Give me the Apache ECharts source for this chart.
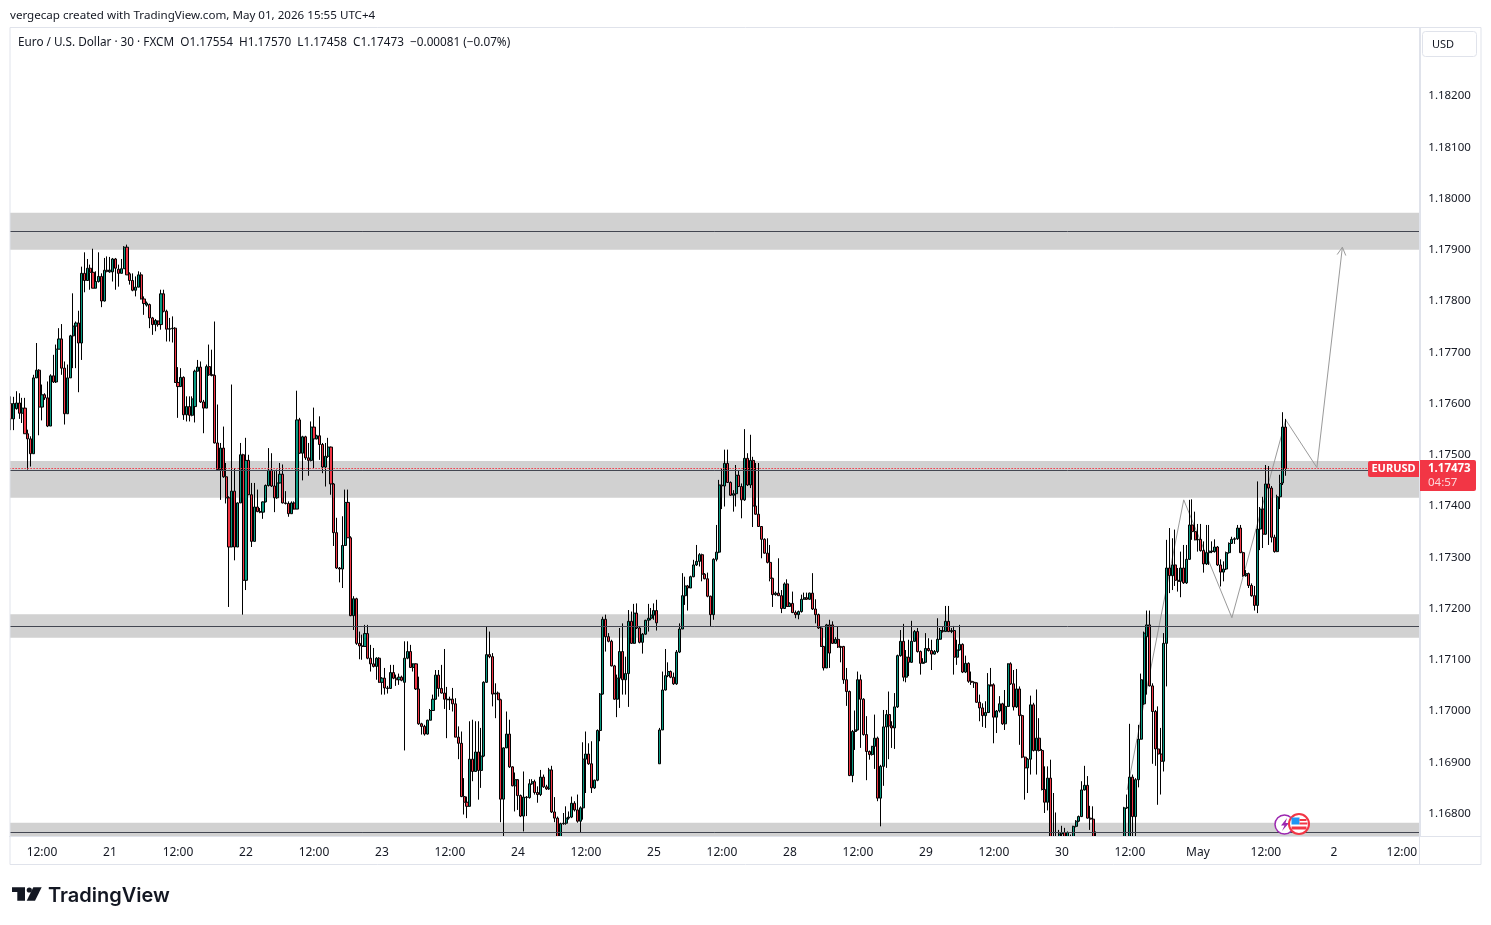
<!DOCTYPE html>
<html><head><meta charset="utf-8"><title>EURUSD</title>
<style>html,body{margin:0;padding:0;background:#fff}#c{width:1491px;height:925px}</style>
<script src="https://cdn.jsdelivr.net/npm/echarts@6/dist/echarts.min.js"></script></head>
<body><div id="c"></div><script>
const opens=[17600,17570,17590,17601,17581,17591,17541,17531,17502,17650,
17665,17593,17617,17611,17556,17654,17642,17706,17726,17669,
17580,17650,17732,17751,17757,17718,17854,17840,17864,17856,
17825,17838,17848,17800,17860,17857,17857,17882,17862,17854,
17863,17905,17853,17840,17821,17827,17851,17804,17792,17793,
17767,17754,17761,17754,17814,17780,17745,17746,17747,17641,
17633,17651,17578,17594,17577,17594,17663,17671,17603,17591,
17672,17656,17655,17523,17471,17513,17457,17416,17320,17429,
17320,17406,17500,17255,17489,17422,17331,17398,17389,17388,
17408,17440,17470,17439,17416,17445,17462,17406,17405,17385,
17406,17394,17568,17503,17535,17494,17489,17554,17531,17537,
17520,17476,17497,17515,17443,17348,17279,17277,17323,17407,
17338,17186,17219,17132,17127,17126,17151,17103,17092,17087,
17103,17056,17064,17045,17044,17075,17064,17061,17066,17056,
17103,17116,17085,17092,17043,16975,16970,16955,16982,17001,
17023,17070,17044,17035,17023,17022,17023,17014,16949,16937,
16833,16822,16814,16906,16882,16920,16884,16912,17056,17110,
17106,17033,17035,17022,16828,16928,16955,16891,16854,16866,
16835,16795,16832,16831,16858,16862,16841,16837,16871,16852,
16848,16885,16803,16791,16755,16780,16781,16791,16793,16820,
16807,16785,16811,16906,16916,16897,16850,16865,16962,17033,
17179,17145,17136,17088,17023,17064,17116,17061,17073,17175,
17132,17191,17162,17134,17150,17177,17181,17187,17196,16897,
16963,17041,17069,17077,17066,17053,17115,17160,17225,17244,
17240,17262,17285,17292,17305,17267,17258,17224,17188,17296,
17310,17441,17439,17483,17446,17421,17424,17460,17438,17412,
17493,17441,17489,17400,17384,17360,17335,17308,17290,17259,
17227,17230,17225,17200,17248,17204,17210,17192,17188,17194,
17218,17221,17218,17230,17199,17188,17162,17126,17084,17168,
17168,17132,17140,17126,17126,17061,17038,16874,16960,16963,
17061,17023,16954,16921,16915,16931,16947,16830,16892,16969,
16993,16971,16967,17008,17108,17136,17066,17105,17095,17136,
17155,17116,17093,17095,17122,17118,17111,17116,17140,17157,
17155,17175,17155,17157,17105,17119,17130,17076,17093,17058,
17056,17055,17017,17006,16991,16997,17051,17051,16988,17000,
17014,16975,17009,17092,17053,17008,17043,16991,16910,16889,
16906,17012,16923,16947,16923,16847,16822,16869,16752,16730,
16745,16760,16763,16755,16750,16755,16775,16785,16794,16846,
16855,16791,16789,16749,16730,16720,16710,16700,16690,16680,
16690,16700,16710,16720,16811,16750,16871,16794,16866,16945,
17014,17145,17168,17049,16999,16926,16916,16902,17132,17279,
17264,17285,17255,17253,17279,17250,17296,17363,17350,17334,
17335,17313,17287,17309,17312,17311,17320,17285,17271,17277,
17309,17327,17335,17336,17357,17309,17264,17268,17245,17225,
17206,17355,17394,17345,17443,17435,17339,17311,17418,17445,17554];
const closes=[17570,17600,17601,17581,17591,17541,17531,17502,17650,17665,
17593,17617,17611,17556,17654,17642,17706,17726,17669,17580,
17650,17732,17751,17757,17718,17854,17840,17864,17856,17825,
17838,17848,17800,17860,17858,17860,17882,17864,17854,17863,
17905,17851,17840,17821,17827,17851,17804,17795,17796,17767,
17754,17762,17754,17814,17780,17745,17746,17747,17641,17633,
17651,17578,17594,17577,17609,17663,17671,17603,17591,17672,
17656,17655,17523,17471,17513,17457,17416,17320,17429,17320,
17406,17500,17255,17489,17422,17331,17398,17389,17388,17408,
17440,17470,17439,17416,17445,17462,17406,17405,17385,17406,
17394,17568,17503,17535,17494,17489,17554,17531,17537,17520,
17476,17497,17515,17443,17348,17279,17277,17323,17407,17338,
17186,17219,17132,17127,17126,17151,17103,17092,17087,17103,
17056,17064,17045,17044,17075,17064,17061,17066,17060,17103,
17116,17085,17092,17043,16975,16970,16955,16982,17001,17023,
17070,17044,17035,17023,17022,17023,17014,16949,16937,16833,
16822,16814,16906,16882,16920,16884,16912,17056,17110,17106,
17033,17035,17022,16828,16928,16955,16891,16854,16866,16835,
16795,16832,16831,16858,16862,16841,16837,16871,16852,16848,
16885,16803,16791,16755,16780,16781,16791,16793,16820,16807,
16785,16811,16906,16916,16897,16850,16865,16962,17033,17179,
17145,17136,17088,17023,17064,17116,17061,17073,17175,17132,
17191,17162,17134,17150,17177,17181,17187,17196,17172,16963,
17041,17069,17077,17066,17053,17115,17160,17225,17244,17240,
17262,17285,17292,17305,17267,17258,17224,17188,17296,17310,
17441,17439,17483,17446,17421,17424,17460,17438,17412,17493,
17441,17489,17400,17384,17360,17335,17308,17290,17259,17227,
17230,17225,17200,17248,17204,17210,17192,17188,17194,17218,
17221,17218,17230,17199,17188,17162,17126,17084,17168,17113,
17132,17140,17125,17124,17061,17038,16874,16960,16963,17061,
17023,16954,16921,16915,16931,16947,16830,16892,16969,16993,
16971,16967,17008,17108,17136,17066,17105,17095,17136,17155,
17116,17093,17095,17122,17118,17111,17116,17140,17157,17155,
17175,17155,17157,17105,17119,17130,17076,17093,17058,17056,
17055,17017,17006,16991,16997,17051,17049,16988,17000,17014,
16975,17009,17092,17053,17008,17043,16991,16910,16889,16906,
17012,16923,16947,16923,16847,16822,16869,16752,16730,16745,
16760,16763,16755,16763,16752,16775,16785,16794,16846,16855,
16791,16789,16749,16745,16720,16710,16700,16690,16680,16690,
16700,16710,16720,16811,16812,16871,16794,16866,16945,17061,
17152,17168,17049,16999,16926,16916,16902,17132,17279,17264,
17285,17255,17253,17279,17250,17296,17363,17350,17334,17335,
17313,17287,17309,17312,17311,17320,17285,17271,17277,17309,
17327,17335,17336,17357,17309,17264,17268,17245,17225,17206,
17355,17394,17345,17443,17435,17339,17311,17418,17444,17554,17473];
const highs=[17614,17613,17624,17620,17611,17611,17549,17536,17656,17718,
17667,17637,17620,17643,17657,17695,17715,17747,17755,17682,
17676,17734,17815,17760,17781,17867,17895,17882,17871,17902,
17858,17895,17854,17884,17887,17886,17884,17884,17871,17882,
17907,17910,17856,17854,17848,17858,17856,17809,17799,17795,
17769,17765,17762,17822,17822,17783,17767,17770,17749,17671,
17669,17653,17614,17614,17614,17666,17685,17682,17607,17676,
17715,17705,17760,17598,17523,17555,17484,17419,17637,17474,
17407,17523,17502,17533,17500,17445,17445,17432,17396,17409,
17442,17513,17503,17468,17471,17484,17481,17429,17409,17409,
17409,17625,17572,17537,17537,17523,17565,17592,17539,17575,
17523,17523,17533,17516,17445,17377,17281,17380,17432,17432,
17341,17224,17221,17155,17149,17168,17168,17129,17123,17105,
17105,17066,17084,17049,17090,17090,17071,17073,17069,17136,
17136,17129,17093,17093,17067,16977,16973,16983,17004,17032,
17080,17080,17090,17121,17047,17028,17045,17025,16970,16960,
16869,16833,16980,16983,16980,16980,16967,17058,17165,17155,
17113,17054,17038,17024,16929,16999,16983,16892,16880,16867,
16837,16882,16834,16867,16867,16866,16853,16885,16876,16856,
16889,16893,16832,16794,16782,16801,16814,16804,16833,16824,
16837,16814,16939,16960,16937,16941,16866,16964,17035,17184,
17188,17152,17139,17090,17071,17162,17171,17106,17197,17194,
17209,17210,17165,17152,17178,17209,17201,17210,17217,16967,
17077,17121,17095,17079,17075,17119,17171,17269,17262,17246,
17264,17295,17324,17308,17307,17269,17270,17225,17298,17363,
17451,17474,17510,17510,17448,17431,17480,17470,17444,17550,
17503,17539,17496,17484,17484,17361,17337,17337,17324,17260,
17233,17298,17236,17251,17257,17212,17233,17196,17196,17227,
17231,17231,17231,17269,17218,17190,17164,17127,17170,17178,
17175,17144,17165,17127,17127,17084,17040,16963,17001,17077,
17071,17025,16990,16923,16932,16993,16950,16895,17002,17002,
17038,16980,17035,17110,17158,17170,17119,17139,17176,17158,
17162,17118,17103,17152,17142,17139,17119,17181,17162,17164,
17205,17205,17162,17166,17139,17168,17132,17108,17095,17077,
17058,17056,17032,17015,17019,17074,17084,17054,17002,17029,
17016,17041,17093,17095,17080,17082,17048,16993,16911,16908,
17030,17016,17042,16986,16926,16892,16892,16905,16840,16802,
16768,16776,16772,16765,16759,16776,16787,16796,16863,16893,
16873,16815,16814,16765,16735,16725,16715,16705,16695,16695,
16705,16715,16725,16813,16837,16975,16876,16869,16973,17073,
17155,17196,17196,17054,17002,17009,16967,17152,17334,17357,
17337,17354,17279,17311,17324,17324,17412,17413,17389,17365,
17365,17331,17363,17363,17331,17335,17322,17296,17292,17311,
17329,17340,17339,17363,17363,17311,17275,17270,17249,17244,
17448,17398,17418,17480,17478,17439,17344,17422,17461,17583,17570];
const lows=[17548,17548,17588,17570,17562,17541,17471,17477,17502,17650,
17538,17567,17607,17554,17556,17640,17640,17706,17656,17559,
17580,17650,17669,17669,17622,17685,17817,17840,17822,17825,
17825,17836,17788,17799,17856,17855,17838,17822,17828,17854,
17863,17851,17832,17819,17809,17827,17803,17773,17789,17747,
17734,17741,17750,17744,17778,17721,17721,17719,17640,17572,
17633,17568,17565,17565,17575,17563,17663,17601,17542,17591,
17654,17653,17522,17471,17412,17455,17405,17203,17320,17294,
17320,17406,17188,17236,17422,17320,17331,17388,17386,17375,
17407,17438,17437,17388,17414,17444,17405,17403,17379,17385,
17393,17394,17502,17450,17490,17459,17487,17474,17530,17490,
17464,17438,17494,17422,17322,17277,17251,17240,17322,17338,
17185,17158,17129,17101,17100,17126,17101,17077,17085,17061,
17055,17032,17032,17034,17043,17062,17049,17051,17058,16923,
17101,17084,17077,17041,16973,16954,16952,16954,16982,17000,
17022,17028,17034,17004,16947,17002,16999,16949,16906,16832,
16798,16791,16814,16863,16882,16827,16850,16910,17055,17103,
17009,16986,17022,16783,16755,16928,16889,16853,16804,16807,
16793,16765,16795,16829,16856,16837,16821,16834,16850,16846,
16846,16801,16783,16742,16742,16778,16778,16788,16791,16804,
16782,16762,16788,16840,16895,16840,16848,16863,16941,17032,
17116,17134,17087,17022,16988,17006,17032,17032,17008,17131,
17131,17160,17132,17112,17149,17155,17177,17178,17157,16897,
16963,17040,17066,17064,17051,17051,17113,17160,17207,17196,
17240,17261,17283,17282,17253,17257,17222,17166,17178,17292,
17308,17394,17399,17445,17420,17389,17399,17437,17376,17410,
17439,17435,17359,17383,17360,17298,17307,17288,17253,17203,
17225,17225,17191,17199,17203,17203,17191,17181,17179,17192,
17217,17217,17217,17197,17171,17160,17125,17079,17084,17084,
17131,17131,17123,17095,17053,17010,16873,16861,16924,16962,
16928,16952,16865,16905,16913,16887,16824,16775,16854,16889,
16906,16928,16926,17006,17106,17058,17056,17068,17094,17135,
17114,17071,17092,17095,17116,17080,17110,17113,17139,17153,
17155,17154,17152,17071,17090,17118,17074,17074,17055,17051,
17045,17016,16980,16969,16967,16996,17048,16937,16957,16997,
16973,16963,17008,17051,17001,17006,16934,16908,16827,16840,
16876,16921,16876,16921,16845,16801,16806,16742,16720,16720,
16735,16745,16740,16740,16735,16745,16773,16783,16793,16845,
16790,16768,16735,16730,16715,16705,16695,16685,16675,16675,
16685,16695,16705,16705,16809,16730,16740,16755,16851,16944,
17012,17032,17048,16897,16893,16817,16837,16882,17048,17230,
17236,17244,17233,17222,17248,17248,17295,17334,17333,17311,
17311,17270,17285,17285,17308,17309,17283,17243,17253,17275,
17307,17326,17326,17334,17308,17262,17262,17240,17223,17196,
17191,17314,17318,17344,17324,17329,17309,17310,17394,17441,17459];
const tickLabels=['12:00','21','12:00','22','12:00','23','12:00','24','12:00','25','12:00','28','12:00','29','12:00','30','12:00','May','12:00','2','12:00'];
const priceTicks=[1.168,1.169,1.170,1.171,1.172,1.173,1.174,1.175,1.176,1.177,1.178,1.179,1.180,1.181,1.182];
const zoneTops=[1.17972,1.17488,1.17189,1.16782];
const zoneBottoms=[1.17900,1.17416,1.17143,1.16756];
const levelLines=[1.17937,1.17470,1.17165,1.16764];
const lastPrice=1.17473;
const routeIndex=[394,414,431,450,461,470];
const routePrice=[1.16846,1.17412,1.17182,1.17568,1.17475,1.17905];
const yMin=1.167561,yMax=1.183327,slotCount=498;
const p=v=>1+v/100000;
const candleData=opens.map((o,i)=>[p(o),p(closes[i]),p(lows[i]),p(highs[i])]);
const categories=Array.from({length:slotCount},(_,i)=>{const k=(i-11)/24;return Number.isInteger(k)&&tickLabels[k]?tickLabels[k]:'';});
const F='"Noto Sans",sans-serif',INK='#131722',RULE='#e0e3eb',RED='#f23645';
const txt=(x,y,text,o={})=>({type:'text',z:100,style:Object.assign({x,y,text,fill:INK,font:'11.5px '+F,textVerticalAlign:'middle'},o)});
const chart=echarts.init(document.getElementById('c'),null,{renderer:'canvas'});
chart.setOption({
 animation:false,backgroundColor:'#fff',
 grid:{left:9.4,top:28,width:1410.9,height:808,containLabel:false},
 xAxis:{type:'category',z:95,data:categories,boundaryGap:true,axisLine:{lineStyle:{color:RULE}},axisTick:{show:false},splitLine:{show:false},
  axisLabel:{interval:(i,v)=>v!=='',color:INK,fontSize:12,fontFamily:F,margin:10.5,hideOverlap:false}},
 yAxis:{type:'value',z:95,position:'right',min:yMin,max:yMax,scale:true,splitLine:{show:false},axisTick:{show:false},
  axisLine:{show:true,lineStyle:{color:RULE}},
  axisLabel:{customValues:priceTicks,formatter:v=>v.toFixed(5),color:INK,fontSize:11.5,fontFamily:F,margin:8,padding:[4,0,0,0]}},
 series:[
  {type:'line',data:[],z:1,silent:true,
   markArea:{silent:true,itemStyle:{color:'#d1d1d1'},data:zoneTops.map((t,i)=>[{yAxis:t},{yAxis:zoneBottoms[i]}])},
   markLine:{silent:true,precision:6,symbol:'none',label:{show:false},lineStyle:{color:'#434651',width:1,type:'solid'},data:levelLines.map(v=>({yAxis:v}))}},
  {type:'custom',z:2,silent:true,clip:true,coordinateSystem:'cartesian2d',data:[[0,lastPrice]],
   renderItem:(params,api)=>{
     const pts=routeIndex.map((ix,i)=>api.coord([ix,routePrice[i]]));
     const a=pts[pts.length-1],b=pts[pts.length-2];
     const ang=Math.atan2(b[1]-a[1],b[0]-a[0]),L=9;
     const h1=[a[0]+L*Math.cos(ang+.5),a[1]+L*Math.sin(ang+.5)],h2=[a[0]+L*Math.cos(ang-.5),a[1]+L*Math.sin(ang-.5)];
     const st={stroke:'#9a9a9a',lineWidth:1,fill:null};
     return {type:'group',children:[{type:'polyline',shape:{points:pts},style:st},{type:'polyline',shape:{points:[h1,a,h2]},style:st}]};
   }},
  {type:'candlestick',z:3,silent:true,barWidth:2.6,clip:true,large:false,progressive:0,data:candleData,
   itemStyle:{color:'#089981',color0:RED,borderColor:'#000',borderColor0:'#000',borderWidth:1}},
  {type:'line',data:[],z:4,silent:true,
   markLine:{silent:true,precision:6,symbol:'none',label:{show:false},lineStyle:{color:RED,width:1,type:[1.5,1.5]},data:[{yAxis:lastPrice}]}}
 ],
 graphic:{elements:[
  {type:'rect',z:90,shape:{x:1419.5,y:28,width:2,height:808},style:{fill:'#fff'}},
  {type:'rect',z:90,shape:{x:8,y:28,width:2,height:836},style:{fill:'#fff'}},
  {type:'rect',z:90,shape:{x:10,y:836.5,width:1409,height:27},style:{fill:'#fff'}},
  {type:'rect',z:91,shape:{x:10,y:27.5,width:1471,height:837},style:{fill:null,stroke:RULE,lineWidth:1}},
  {type:'line',z:91,shape:{x1:1419.5,y1:28,x2:1419.5,y2:864},style:{stroke:RULE,lineWidth:1}},
  {type:'line',z:91,shape:{x1:10,y1:836.5,x2:1481,y2:836.5},style:{stroke:RULE,lineWidth:1}},
  txt(10,15.5,'vergecap created with TradingView.com, May 01, 2026 15:55 UTC+4',{font:'11.6px '+F}),
  txt(18,42.5,'Euro / U.S. Dollar · 30 · FXCM  O1.17554  H1.17570  L1.17458  C1.17473  −0.00081 (−0.07%)',{font:'11.75px '+F}),
  {type:'rect',z:100,shape:{x:1422.5,y:31.5,width:54,height:25,r:3},style:{fill:'#fff',stroke:RULE,lineWidth:1}},
  txt(1432,44.5,'USD',{font:'11px '+F}),
  {type:'rect',z:100,shape:{x:1368,y:461,width:51,height:16,r:[2,0,0,2]},style:{fill:RED}},
  txt(1393.5,469,'EURUSD',{fill:'#fff',font:'bold 11px '+F,textAlign:'center'}),
  {type:'rect',z:100,shape:{x:1420,y:460,width:56,height:31,r:[0,2,2,0]},style:{fill:RED}},
  txt(1428,468.5,'1.17473',{fill:'#fff',font:'bold 11.5px '+F}),
  txt(1428,482.5,'04:57',{fill:'#fcd7db',font:'11.5px '+F}),
  {type:'circle',z:100,shape:{cx:1284.5,cy:824.5,r:9.5},style:{fill:'#fff',stroke:'#9c27b0',lineWidth:1.5}},
  {type:'polygon',z:101,shape:{points:[[1287,818],[1281,825.5],[1284.5,825.5],[1282,831],[1289,823],[1285.5,823]]},style:{fill:'#9c27b0'}},
  {type:'circle',z:102,shape:{cx:1299,cy:824,r:10},style:{fill:'#fff',stroke:RED,lineWidth:2}},
  {type:'rect',z:103,shape:{x:1291.5,y:817.5,width:8,height:7},style:{fill:'#2196f3'}},
  {type:'rect',z:103,shape:{x:1299.5,y:819,width:7,height:2},style:{fill:RED}},
  {type:'rect',z:103,shape:{x:1299.5,y:822.5,width:8,height:2},style:{fill:RED}},
  {type:'rect',z:103,shape:{x:1291.5,y:826.5,width:15,height:3},style:{fill:RED}},
  {type:'polygon',z:100,shape:{points:[[12,887.3],[25,887.3],[25,900.7],[17.3,900.7],[17.3,892],[12,892]]},style:{fill:INK}},
  {type:'circle',z:100,shape:{cx:29.3,cy:890,r:2.6},style:{fill:INK}},
  {type:'polygon',z:100,shape:{points:[[33.3,887.3],[41.7,887.3],[35,900.7],[26.7,900.7]]},style:{fill:INK}},
  txt(48,895.5,'TradingView',{font:'600 20px Inter,sans-serif'})
 ]}
});
</script></body></html>
